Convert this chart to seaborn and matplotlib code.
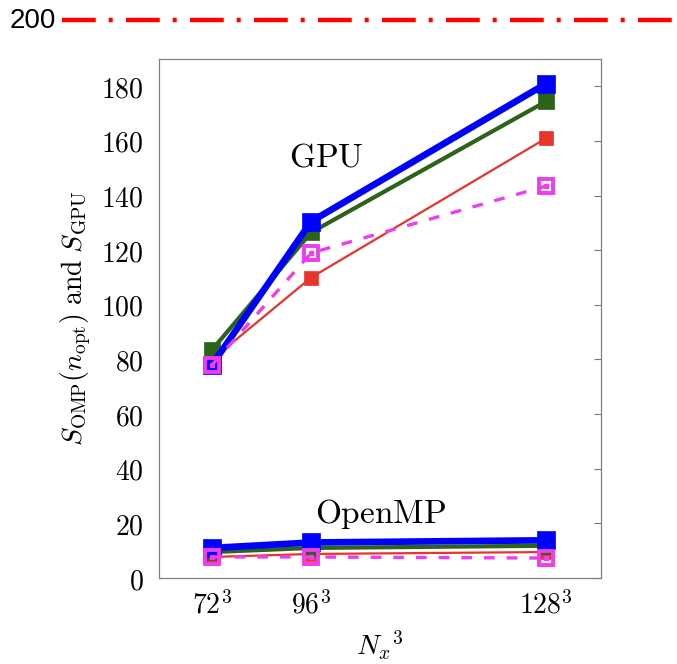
import numpy as np
import pandas as pd
import matplotlib
matplotlib.use("Agg")
import matplotlib.pyplot as plt
from matplotlib.lines import Line2D
import seaborn as sns

# ===== data =====
grid_n = [72, 96, 128]
tick_labels = [r"$72^3$", r"$96^3$", r"$128^3$"]
yticks = [0, 20, 40, 60, 80, 100, 120, 140, 160, 180]

gpu_blue = [78, 130.5, 181]
gpu_green = [83.5, 126.5, 174.5]
gpu_red = [80, 110, 161]
gpu_magenta = [78, 119, 143.5]

omp_blue = [11, 13, 13.8]
omp_green = [9.5, 11, 11.8]
omp_red = [7.7, 8.8, 9.5]
omp_magenta = [7.7, 7.7, 7.3]

sns.set_theme(style="white")
plt.rcParams["mathtext.fontset"] = "cm"
plt.rcParams["font.family"] = ["DejaVu Sans"]
plt.rcParams["text.color"] = "black"
plt.rcParams["axes.labelcolor"] = "black"

x = np.array(grid_n, dtype=float) ** 3

fig = plt.figure(figsize=(6.77, 6.64), dpi=100)
ax = fig.add_axes([159 / 677, 86 / 664, 442 / 677, 519 / 664])

# style per series: colour, line width, marker size, z-order
styles = {
    "red": dict(color="#e8342a", lw=1.6, ms=10.5, z=2),
    "green": dict(color="#2b6319", lw=3.0, ms=11.5, z=3),
    "blue": dict(color="#0000ff", lw=4.8, ms=13, z=4),
}

for name, series in [("red", [gpu_red, omp_red]),
                     ("green", [gpu_green, omp_green]),
                     ("blue", [gpu_blue, omp_blue])]:
    st = styles[name]
    for vals in series:
        sns.lineplot(x=x, y=vals, ax=ax, color=st["color"], lw=st["lw"],
                     marker="s", markersize=st["ms"], markerfacecolor=st["color"],
                     markeredgecolor=st["color"], markeredgewidth=0.5,
                     zorder=st["z"], legend=False)

# magenta: dashed, open square with dot in the middle
mag = "#ee3cee"
for vals in [gpu_magenta, omp_magenta]:
    sns.lineplot(x=x, y=vals, ax=ax, color=mag, lw=2.4,
                 linestyle=(0, (3.2, 3.6)),
                 marker="s", markersize=10.5, markerfacecolor="none",
                 markeredgecolor=mag, markeredgewidth=2.8,
                 zorder=5, legend=False)
    ax.plot(x, vals, ls="none", marker="s", ms=2.5, color=mag, zorder=6)

ax.set_xlim(1.0e5, 2.38e6)
ax.set_ylim(0, 190)
ax.set_xticks(x)
ax.set_xticklabels(tick_labels, fontsize=20)
ax.set_yticks(yticks)
ax.set_yticklabels([f"${v}$" for v in yticks], fontsize=20)

ax.tick_params(axis="both", direction="in", length=5, width=0.8, color="#777777",
               labelcolor="black")
ax.tick_params(axis="y", right=True, pad=11)
ax.tick_params(axis="x", pad=9)
for sp in ax.spines.values():
    sp.set_color("#808080")
    sp.set_linewidth(0.9)

ax.set_ylabel(r"$S_{\mathrm{OMP}}(n_{\mathrm{opt}})\ \mathrm{and}\ S_{\mathrm{GPU}}$",
              fontsize=20, labelpad=6)
ax.set_xlabel(r"${N_x}^3$", fontsize=20, labelpad=7)

ax.text(x[1] * 1.09, 154, r"$\mathrm{GPU}$", fontsize=24, ha="center", va="center")
ax.text(x[1] * 1.02, 23.5, r"$\mathrm{OpenMP}$", fontsize=24, ha="left", va="center")

# stray "200" label with red dash-dot line above the frame
fig.text(10 / 677, 1 - 21 / 664, "200", fontsize=20, family="Liberation Sans",
         ha="left", va="center")
fig.add_artist(Line2D([62 / 677, 1.0], [1 - 20 / 664, 1 - 20 / 664],
                      color="#ff0000", lw=3.2,
                      linestyle=(0, (7.6, 2.9, 0.9, 3.0))))

fig.savefig("out.png", dpi=100)
